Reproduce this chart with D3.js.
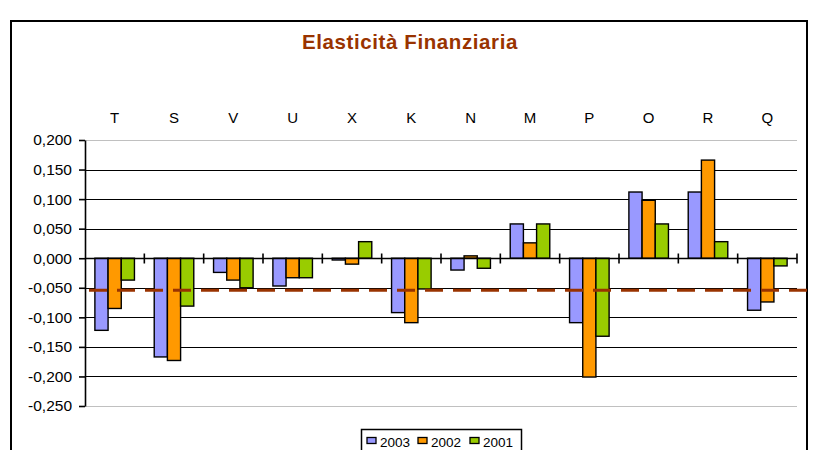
<!DOCTYPE html>
<html>
<head>
<meta charset="utf-8">
<script src="https://cdn.jsdelivr.net/npm/d3@7/dist/d3.min.js"></script>
<style>
  body { margin: 0; background: #fff; }
  svg { display: block; font-family: "Liberation Sans", Arial, sans-serif; }
</style>
</head>
<body>
<svg width="817" height="450"></svg>
<script>
var width = 817;
var height = 450;
var margin = {left: 85, right: 20, top: 140, bottom: 44};

// data
var categories = ["T", "S", "V", "U", "X", "K", "N", "M", "P", "O", "R", "Q"];
var series = ["2003", "2002", "2001"];
var colors = ["#9999FF", "#FF9900", "#99CC00"];
var v2003 = [-0.122, -0.167, -0.024, -0.047, -0.003, -0.092, -0.020, 0.058, -0.109, 0.112, 0.112, -0.088];
var v2002 = [-0.085, -0.173, -0.037, -0.033, -0.010, -0.109, 0.004, 0.026, -0.201, 0.098, 0.166, -0.074];
var v2001 = [-0.037, -0.081, -0.050, -0.033, 0.028, -0.052, -0.017, 0.058, -0.132, 0.058, 0.028, -0.013];
var yTicks = [-0.25, -0.2, -0.15, -0.1, -0.05, 0, 0.05, 0.1, 0.15, 0.2];
var refLine = -0.054;

var values = [v2003, v2002, v2001];

var svg = d3.select('svg');

var locale = d3.formatLocale({decimal: ",", thousands: ".", grouping: [3], currency: ["", ""], minus: "-"});
var fmt = locale.format(".3f");

//Scales
var x0 = d3.scaleBand().domain(categories).range([margin.left, 797]).padding(0);
var x1 = d3.scaleBand().domain(series).range([0, x0.bandwidth()]).paddingInner(0).paddingOuter(0.75);
var y = d3.scaleLinear().domain([-0.25, 0.2]).range([406, 140]);

// outer frame
svg.append("rect")
  .attr("x", 11).attr("y", 21)
  .attr("width", 796).attr("height", 460)
  .attr("fill", "none")
  .attr("stroke", "#000")
  .attr("stroke-width", 2);

// title
svg.append("text")
  .attr("x", 410).attr("y", 49)
  .attr("text-anchor", "middle")
  .attr("font-size", 20.5)
  .attr("font-weight", "bold")
  .attr("letter-spacing", 0.6)
  .attr("fill", "#993300")
  .text("Elasticità Finanziaria");

// gridlines
svg.append("g").selectAll("line")
  .data(yTicks.filter(function(d) { return d !== 0; }))
  .enter().append("line")
  .attr("x1", margin.left).attr("x2", 797)
  .attr("y1", function(d) { return Math.round(y(d)) + 0.5; })
  .attr("y2", function(d) { return Math.round(y(d)) + 0.5; })
  .attr("stroke", function(d) { return (d === 0.2 || d === -0.25) ? "#c0c0c0" : "#000"; })
  .attr("stroke-width", function(d) { return (d === 0.2 || d === -0.25) ? 1 : 1.2; });

// bars
series.forEach(function(s, si) {
  svg.append("g").selectAll("rect")
    .data(values[si])
    .enter().append("rect")
    .attr("x", function(d, i) { return x0(categories[i]) + x1(s); })
    .attr("width", x1.bandwidth())
    .attr("y", function(d) { return y(Math.max(0, d)); })
    .attr("height", function(d) { return Math.max(Math.abs(y(d) - y(0)), 1); })
    .attr("fill", colors[si])
    .attr("stroke", "#000")
    .attr("stroke-width", 1.4);
});

// y axis
var axisLeft = d3.axisLeft(y).tickValues(yTicks).tickFormat(fmt).tickSize(6).tickSizeOuter(0).tickPadding(7);
var gy = svg.append("g")
  .attr("transform", "translate(" + margin.left + ",0)")
  .call(axisLeft);
gy.select(".domain").attr("stroke", "#000").attr("stroke-width", 1.6);
gy.selectAll(".tick line").attr("stroke-width", 1.6);
gy.selectAll("text").attr("font-size", 15.5).attr("fill", "#000").style("font-family", "Liberation Sans, Arial, sans-serif");

// zero line with crossing category ticks
var zeroY = Math.round(y(0)) + 0.5;
svg.append("line")
  .attr("x1", margin.left).attr("x2", 797)
  .attr("y1", zeroY).attr("y2", zeroY)
  .attr("stroke", "#000").attr("stroke-width", 1.6);
svg.append("g").selectAll("line")
  .data(categories)
  .enter().append("line")
  .attr("x1", function(d) { return x0(d) + x0.bandwidth(); })
  .attr("x2", function(d) { return x0(d) + x0.bandwidth(); })
  .attr("y1", zeroY - 5).attr("y2", zeroY + 5)
  .attr("stroke", "#000").attr("stroke-width", 1.6);

// category labels on top
svg.append("g").selectAll("text")
  .data(categories)
  .enter().append("text")
  .attr("x", function(d) { return x0(d) + x0.bandwidth() / 2; })
  .attr("y", 123)
  .attr("text-anchor", "middle")
  .attr("font-size", 15)
  .text(function(d) { return d; });

// reference dashed line
svg.append("line")
  .attr("x1", 89).attr("x2", 817)
  .attr("y1", y(refLine)).attr("y2", y(refLine))
  .attr("stroke", "#993300")
  .attr("stroke-width", 3)
  .attr("stroke-dasharray", "18,10");

// legend
var legend = svg.append("g");
legend.append("rect")
  .attr("x", 361.5).attr("y", 429.5)
  .attr("width", 160).attr("height", 30)
  .attr("fill", "#fff")
  .attr("stroke", "#000").attr("stroke-width", 1.5);
var legX = [367, 418, 470];
series.forEach(function(s, si) {
  legend.append("rect")
    .attr("x", legX[si]).attr("y", 437.5)
    .attr("width", 9).attr("height", 6)
    .attr("fill", colors[si])
    .attr("stroke", "#000").attr("stroke-width", 1.3);
  legend.append("text")
    .attr("x", legX[si] + 13).attr("y", 446.5)
    .attr("font-size", 13.5)
    .text(s);
});
</script>
</body>
</html>
